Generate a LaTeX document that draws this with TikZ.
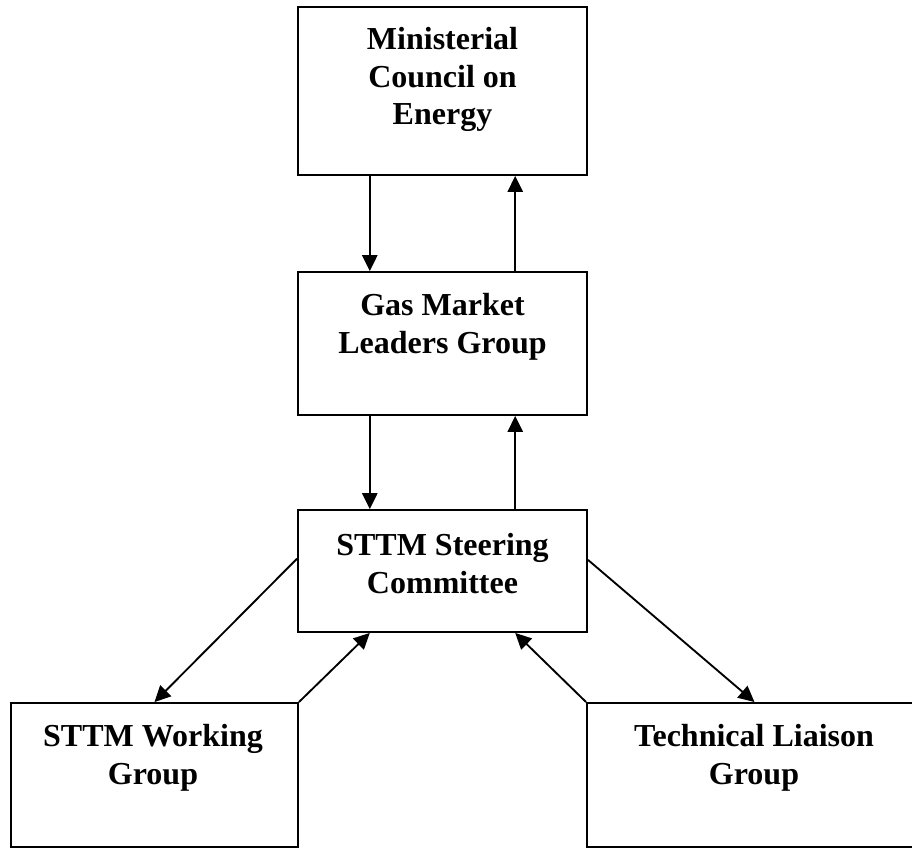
\documentclass[tikz,border=0pt]{standalone}
\usepackage{fontspec}
\setmainfont{Liberation Serif}
\usetikzlibrary{arrows.meta,calc,fit}
\begin{document}
\begin{tikzpicture}[x=0.75pt,y=-0.75pt,
  box/.style={draw=black,line width=1.4pt,inner sep=0pt,fit={#1}},
  txt/.style={anchor=north,align=center,inner sep=0pt,font=\bfseries\fontsize{24}{28.2}\selectfont},
  arr/.style={line width=1.4pt,-{Triangle[length=12pt,width=11.5pt]}}]
\clip (0,0) rectangle (912,848);
\useasboundingbox (0,0) rectangle (912,848);
% boxes
\node[box={(298,7) (587,175)}] (mce) {};
\node[box={(298,272) (587,415)}] (gml) {};
\node[box={(298,510) (587,632)}] (ssc) {};
\node[box={(11,703) (298,847)}] (swg) {};
\node[box={(587,703) (922,847)}] (tlg) {};
% texts
\node[txt] (mcet) at (442.5,27) {Ministerial\\Council on\\Energy};
\node[txt] (gmlt) at (442.5,293) {Gas Market\\Leaders Group};
\node[txt] (ssct) at (442.5,533) {STTM Steering\\Committee};
\node[txt] (swgt) at (153,724) {STTM Working\\Group};
\node[txt] (tlgt) at (754,724) {Technical Liaison\\Group};
% connectors
\draw[arr] ($(mce.south west)!0.25!(mce.south east)$) -- ($(gml.north west)!0.25!(gml.north east)$);
\draw[arr] ($(gml.north west)!0.75!(gml.north east)$) -- ($(mce.south west)!0.75!(mce.south east)$);
\draw[arr] ($(gml.south west)!0.25!(gml.south east)$) -- ($(ssc.north west)!0.25!(ssc.north east)$);
\draw[arr] ($(ssc.north west)!0.75!(ssc.north east)$) -- ($(gml.south west)!0.75!(gml.south east)$);
\draw[arr] ($(ssc.north west)!0.4!(ssc.south west)$) -- (swg.north);
\draw[arr] (swg.north east) -- ($(ssc.south west)!0.25!(ssc.south east)$);
\draw[arr] ($(ssc.north east)!0.41!(ssc.south east)$) -- (tlg.north);
\draw[arr] (tlg.north west) -- ($(ssc.south west)!0.75!(ssc.south east)$);
\end{tikzpicture}
\end{document}
